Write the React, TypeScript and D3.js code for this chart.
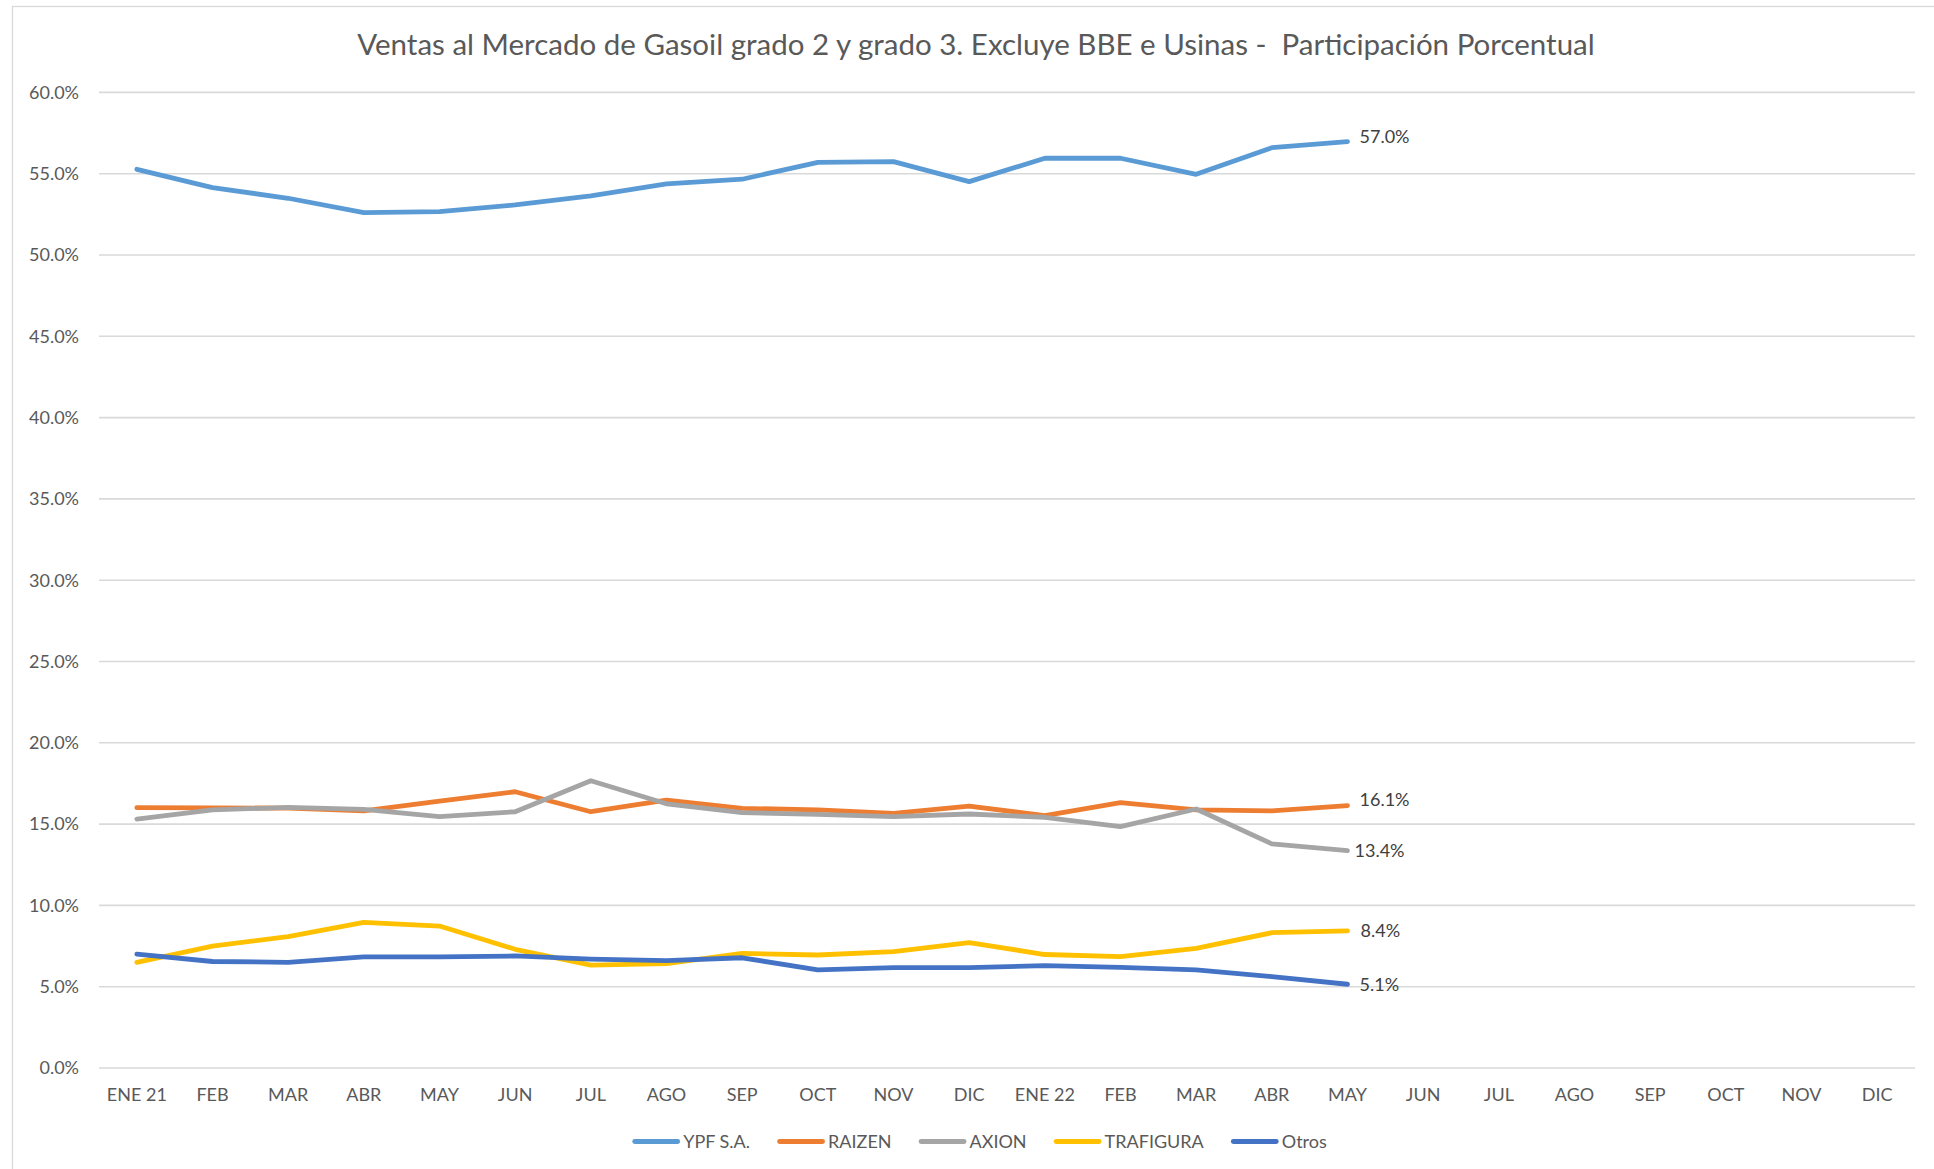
import React, { useEffect, useRef } from "react";
import * as d3 from "d3";

const TITLE = "Ventas al Mercado de Gasoil grado 2 y grado 3. Excluye BBE e Usinas -  Participación Porcentual";

const categories = [
  "ENE 21", "FEB", "MAR", "ABR", "MAY", "JUN", "JUL", "AGO", "SEP", "OCT", "NOV", "DIC",
  "ENE 22", "FEB", "MAR", "ABR", "MAY", "JUN", "JUL", "AGO", "SEP", "OCT", "NOV", "DIC",
];

const yTicks = [0, 0.05, 0.1, 0.15, 0.2, 0.25, 0.3, 0.35, 0.4, 0.45, 0.5, 0.55, 0.6];

const ypf = [0.5527, 0.5414, 0.5349, 0.526, 0.5267, 0.5308, 0.5363, 0.5437, 0.5466, 0.557, 0.5574, 0.5451, 0.5595, 0.5595, 0.5496, 0.566, 0.5697];
const raizen = [0.1601, 0.16, 0.1598, 0.1581, 0.1642, 0.1699, 0.1576, 0.1648, 0.1597, 0.1587, 0.1566, 0.1611, 0.1552, 0.1632, 0.1587, 0.1581, 0.1613];
const axion = [0.1531, 0.1587, 0.1603, 0.1591, 0.1546, 0.1576, 0.1767, 0.1625, 0.157, 0.156, 0.1546, 0.1562, 0.1542, 0.1484, 0.1593, 0.1378, 0.1337];
const trafigura = [0.065, 0.075, 0.0808, 0.0896, 0.0873, 0.073, 0.0633, 0.0642, 0.0705, 0.0695, 0.0716, 0.0771, 0.0698, 0.0685, 0.0736, 0.0832, 0.0843];
const otros = [0.07, 0.0655, 0.065, 0.0683, 0.0683, 0.0689, 0.067, 0.066, 0.0678, 0.0603, 0.0617, 0.0617, 0.0629, 0.0619, 0.0603, 0.0562, 0.0515];

const seriesNames = ["YPF S.A.", "RAIZEN", "AXION", "TRAFIGURA", "Otros"];
const seriesValues = [ypf, raizen, axion, trafigura, otros];
const seriesColors = ["#5B9BD5", "#ED7D31", "#A5A5A5", "#FFC000", "#4472C4"];
// small label nudges (px) to mimic the reference's label placement
const labelNudgeY = [-5, -6, 0, 0, 0];
const labelNudgeX = [0, 0, -5, 1, 0];

const W = 1934;
const H = 1169;
const FONT = "Lato, 'Open Sans', sans-serif";

export default function App() {
  const ref = useRef<SVGSVGElement | null>(null);

  useEffect(() => {
    const svg = d3.select(ref.current);
    svg.selectAll("*").remove();

    const x = d3
      .scaleBand<number>()
      .domain(categories.map((_, i) => i))
      .range([99, 1915])
      .paddingInner(0)
      .paddingOuter(0);
    const cx = (i: number) => (x(i) as number) + x.bandwidth() / 2;
    const y = d3.scaleLinear().domain([0, 0.6]).range([1068, 92.4]);

    svg.append("rect").attr("width", W).attr("height", H).attr("fill", "#ffffff");
    // chart frame (top & left visible)
    svg
      .append("rect")
      .attr("x", 12.5)
      .attr("y", 6.5)
      .attr("width", W + 20)
      .attr("height", H + 20)
      .attr("fill", "none")
      .attr("stroke", "#d9d9d9")
      .attr("stroke-width", 1.3);

    // title
    svg
      .append("text")
      .attr("x", 976)
      .attr("y", 55)
      .attr("text-anchor", "middle")
      .attr("font-family", FONT)
      .attr("font-size", 29.5)
      .attr("fill", "#595959")
      .style("white-space", "pre")
      .attr("xml:space", "preserve")
      .text(TITLE);

    // gridlines
    svg
      .append("g")
      .selectAll("line")
      .data(yTicks)
      .join("line")
      .attr("x1", 99)
      .attr("x2", 1915)
      .attr("y1", (d) => y(d))
      .attr("y2", (d) => y(d))
      .attr("stroke", "#d9d9d9")
      .attr("stroke-width", 1.6);

    // y labels
    svg
      .append("g")
      .selectAll("text")
      .data(yTicks)
      .join("text")
      .attr("x", 79)
      .attr("y", (d) => y(d))
      .attr("dy", "0.35em")
      .attr("text-anchor", "end")
      .attr("font-family", FONT)
      .attr("font-size", 18)
      .attr("fill", "#595959")
      .text((d) => d3.format(".1%")(d));

    // x labels
    svg
      .append("g")
      .selectAll("text")
      .data(categories)
      .join("text")
      .attr("x", (_, i) => cx(i))
      .attr("y", 1094.5)
      .attr("dy", "0.35em")
      .attr("text-anchor", "middle")
      .attr("font-family", FONT)
      .attr("font-size", 18)
      .attr("fill", "#595959")
      .text((d) => d);

    const line = d3
      .line<number>()
      .x((_, i) => cx(i))
      .y((d) => y(d));

    seriesValues.forEach((vals, s) => {
      svg
        .append("path")
        .attr("d", line(vals) as string)
        .attr("fill", "none")
        .attr("stroke", seriesColors[s])
        .attr("stroke-width", 4.8)
        .attr("stroke-linejoin", "round")
        .attr("stroke-linecap", "round");
    });

    // end labels
    seriesValues.forEach((vals, s) => {
      const i = vals.length - 1;
      svg
        .append("text")
        .attr("x", cx(i) + 12 + labelNudgeX[s])
        .attr("y", y(vals[i]) + labelNudgeY[s])
        .attr("dy", "0.35em")
        .attr("font-family", FONT)
        .attr("font-size", 18)
        .attr("fill", "#404040")
        .text(d3.format(".1%")(vals[i]));
    });

    // legend
    const lg = svg.append("g");
    const items = seriesNames.map((name, s) => {
      const g = lg.append("g");
      g.append("line")
        .attr("x1", 2.5)
        .attr("x2", 45.5)
        .attr("y1", 0)
        .attr("y2", 0)
        .attr("stroke", seriesColors[s])
        .attr("stroke-width", 4.8)
        .attr("stroke-linecap", "round");
      const t = g
        .append("text")
        .attr("x", 51)
        .attr("y", 0)
        .attr("dy", "0.35em")
        .attr("font-family", FONT)
        .attr("font-size", 18)
        .attr("fill", "#595959")
        .text(name);
      const w = 51 + (t.node() as SVGTextElement).getComputedTextLength();
      return { g, w };
    });
    const gap = 27;
    const total = d3.sum(items, (d) => d.w) + gap * (items.length - 1);
    let pos = 979.5 - total / 2;
    items.forEach((it) => {
      it.g.attr("transform", `translate(${pos},1141.5)`);
      pos += it.w + gap;
    });
  }, []);

  return (
    <svg
      ref={ref}
      width={W}
      height={H}
      style={{ position: "absolute", left: 0, top: 0, display: "block" }}
    />
  );
}
